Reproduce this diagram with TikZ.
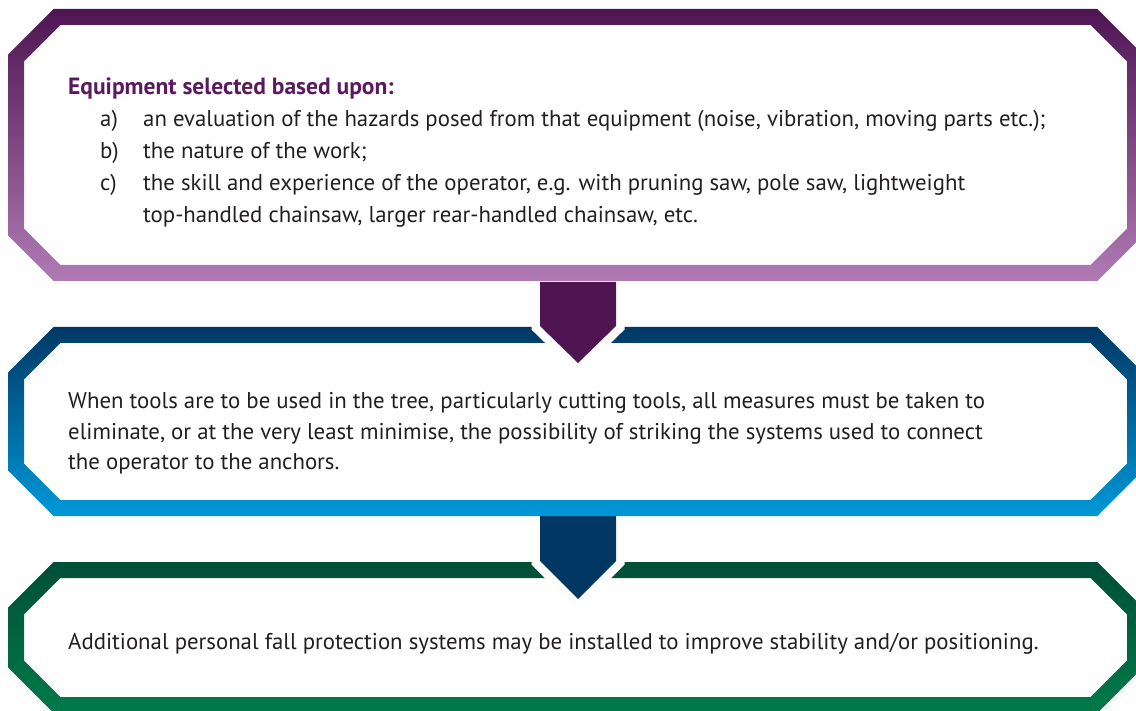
\documentclass[tikz,border=0pt]{standalone}
\usepackage{fontspec}
\setmainfont{PT Sans}
\definecolor{purpTop}{HTML}{4E1552}
\definecolor{purpBot}{HTML}{B07BB4}
\definecolor{blueTop}{HTML}{003865}
\definecolor{blueBot}{HTML}{0098D8}
\definecolor{greenTop}{HTML}{004F36}
\definecolor{greenBot}{HTML}{007A4B}
\definecolor{arrPurp}{HTML}{4E1552}
\definecolor{arrBlue}{HTML}{003763}
\definecolor{textcol}{HTML}{231F20}
\definecolor{headcol}{HTML}{5A1A5E}
% ring: left top right bottom (centre line), top colour, bottom colour
\newcommand\octring[6]{%
  \shade[even odd rule, top color=#5, bottom color=#6]
    ({#1-8+45.7},{#2-8}) -- ({#3+8-45.7},{#2-8}) -- ({#3+8},{#2-8+45.7}) --
    ({#3+8},{#4+8-45.7}) -- ({#3+8-45.7},{#4+8}) -- ({#1-8+45.7},{#4+8}) --
    ({#1-8},{#4+8-45.7}) -- ({#1-8},{#2-8+45.7}) -- cycle
    ({#1+8+36.3},{#2+8}) -- ({#3-8-36.3},{#2+8}) -- ({#3-8},{#2+8+36.3}) --
    ({#3-8},{#4-8-36.3}) -- ({#3-8-36.3},{#4-8}) -- ({#1+8+36.3},{#4-8}) --
    ({#1+8},{#4-8-36.3}) -- ({#1+8},{#2+8+36.3}) -- cycle;%
}
% block arrow: name, left, top, shaft length, head length, colour
\newcommand\blockarrow[6]{%
  \coordinate (#1-a) at (#2,#3);
  \coordinate (#1-b) at ({#2+76},#3);
  \coordinate (#1-c) at ({#2+76},{#3+#4});
  \coordinate (#1-d) at ({#2+38},{#3+#4+#5});
  \coordinate (#1-e) at (#2,{#3+#4});
  \draw[white, line width=17pt, line join=miter]
    (#1-a) -- (#1-b) -- (#1-c) -- (#1-d) -- (#1-e) -- cycle;
  \fill[#6] (#1-a) -- (#1-b) -- (#1-c) -- (#1-d) -- (#1-e) -- cycle;%
}
\begin{document}
\begin{tikzpicture}[x=1pt,y=-1pt,
  txt/.style={anchor=base west, inner sep=0pt, font=\fontsize{22.8}{27}\selectfont, text=textcol},
  headtxt/.style={txt, font=\fontsize{23.5}{27}\selectfont\bfseries, text=headcol}]
\useasboundingbox (0,0) rectangle (1136,711);
\fill[white] (0,0) rectangle (1136,711);
\begin{scope}
\clip (0,0) rectangle (1136,711);
\octring{16}{570}{1135}{705}{greenTop}{greenBot}
\blockarrow{arrow2}{540}{516}{45}{38}{arrBlue}
\octring{16}{335}{1135}{508}{blueTop}{blueBot}
\blockarrow{arrow1}{540}{282}{44}{37}{arrPurp}
\octring{16}{17}{1135}{273}{purpTop}{purpBot}
\end{scope}

\node[headtxt] (head) at (68,95) {Equipment selected based upon:};
\node[txt] (la) at (100,127) {a)};
\node[txt] (ta) at (143,127) {an evaluation of the hazards posed from that equipment (noise, vibration, moving parts etc.);};
\node[txt] (lb) at (100,159) {b)};
\node[txt] (tb) at (143,159) {the nature of the work;};
\node[txt] (lc) at (100,191) {c)};
\node[txt] (tc) at (143,191) {the skill and experience of the operator, e.g. with pruning saw, pole saw, lightweight};
\node[txt] (tc2) at (143,223) {top-handled chainsaw, larger rear-handled chainsaw, etc.};

\node[txt] (m1) at (68,409) {When tools are to be used in the tree, particularly cutting tools, all measures must be taken to};
\node[txt] (m2) at (68,439) {eliminate, or at the very least minimise, the possibility of striking the systems used to connect};
\node[txt] (m3) at (68,469) {the operator to the anchors.};

\node[txt] (b1) at (68,649) {Additional personal fall protection systems may be installed to improve stability and/or positioning.};
\end{tikzpicture}
\end{document}
